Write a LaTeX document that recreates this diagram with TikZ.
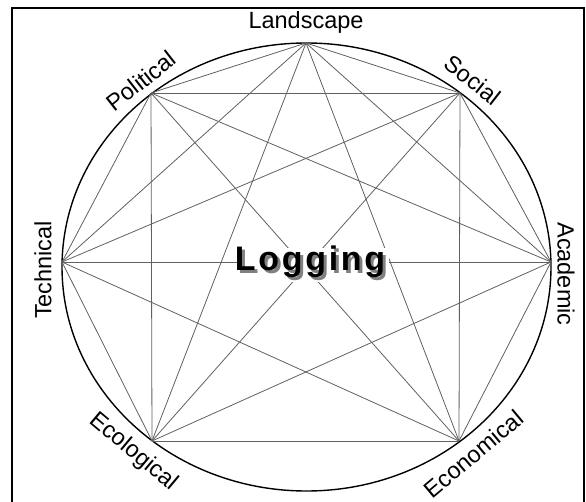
\documentclass[tikz,border=0pt]{standalone}
\usepackage{fontspec}
\setmainfont{Liberation Sans}
\begin{document}
\begin{tikzpicture}[x=1pt,y=-1pt,
    lbl/.style={font=\fontsize{23.5}{27}\selectfont,inner sep=0pt},
    edge/.style={gray!75!black,line width=0.8pt},
    logfont/.style={font=\fontsize{34}{38}\bfseries\addfontfeature{LetterSpace=8}}]
\def\cx{306.5}
\def\cy{267}
\def\rx{244.5}
\def\ry{224}
\def\n{7}
\useasboundingbox (0,0) rectangle (586,502);
\draw[line width=2pt] (12,503) -- (12,8) -- (584,8) -- (584,503);
\draw[line width=1.4pt] (\cx,\cy) ellipse ({\rx} and {\ry});

% the seven corners, clockwise from the top
\foreach \i/\x/\y in {1/306/43, 2/460/93, 3/551/262, 4/459/441,
                      5/152/441, 6/62/262, 7/151/93}{
    \coordinate (V\i) at (\x,\y);
}
% every corner joined to every other one
\foreach \i in {1,...,6}{
    \pgfmathtruncatemacro\k{\i+1}
    \foreach \j in {\k,...,\n}{
        \draw[edge] (V\i) -- (V\j);
    }
}

\node[lbl] (landscape) at (306,22) {Landscape};
\node[lbl,rotate=-38] (social) at (473,80) {Social};
\node[lbl,rotate=-90] (academic) at (566,274) {Academic};
\node[lbl,rotate=40] (economical) at (474,454) {Economical};
\node[lbl,rotate=-40] (ecological) at (133,452) {Ecological};
\node[lbl,rotate=90] (technical) at (43,270) {Technical};
\node[lbl,rotate=38] (political) at (141,81) {Political};

\node[fill=white,inner sep=1pt,text=gray,logfont]
    (logshadow) at (313,265) {Logging};
\node[inner sep=1pt,logfont] (logging) at (310,262) {Logging};
\end{tikzpicture}
\end{document}
